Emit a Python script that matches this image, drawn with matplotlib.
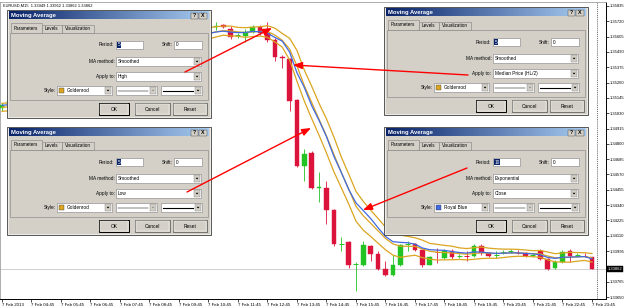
import numpy as np
import matplotlib
matplotlib.use("Agg")
import matplotlib.pyplot as plt
from matplotlib.patches import Rectangle, Polygon

plt.rcParams['font.family'] = ['Liberation Sans', 'DejaVu Sans']

# ---------------- data ----------------
symbol = "EURUSD,M15"
header_values = ["1.33949", "1.33952", "1.33862", "1.33862"]

opens = [1.35067, 1.35089, 1.35119, 1.35149, 1.35171, 1.35208, 1.35231, 1.35268, 1.35290, 1.35328,
         1.35350, 1.35387, 1.35410, 1.35447, 1.35470, 1.35507, 1.35529, 1.35566, 1.35596, 1.35626,
         1.35649, 1.35634, 1.35656, 1.35641, 1.35619, 1.35649, 1.35664, 1.35634, 1.35656, 1.35678,
         1.35693, 1.35664, 1.35615, 1.35611, 1.35641, 1.35678, 1.35634, 1.35581, 1.35455, 1.35440,
         1.35126, 1.34634, 1.34731, 1.34470, 1.34470, 1.34306, 1.34041, 1.34060, 1.33892, 1.33888,
         1.34030, 1.33970, 1.33858, 1.33813, 1.33888, 1.34041, 1.34045, 1.34000, 1.33888, 1.33992,
         1.33940, 1.33992, 1.33951, 1.33963, 1.33955, 1.34030, 1.33977, 1.33959, 1.33981, 1.33988,
         1.33985, 1.33977, 1.33959, 1.33992, 1.33933, 1.33866, 1.33910, 1.33992, 1.33959, 1.33963,
         1.33949]
highs = [1.35104, 1.35126, 1.35156, 1.35186, 1.35216, 1.35246, 1.35276, 1.35305, 1.35343, 1.35365,
         1.35395, 1.35425, 1.35462, 1.35484, 1.35522, 1.35544, 1.35581, 1.35611, 1.35641, 1.35664,
         1.35678, 1.35686, 1.35701, 1.35678, 1.35671, 1.35693, 1.35701, 1.35686, 1.35693, 1.35716,
         1.35701, 1.35686, 1.35634, 1.35664, 1.35693, 1.35693, 1.35716, 1.35596, 1.35470, 1.35447,
         1.35134, 1.34761, 1.34746, 1.34589, 1.34522, 1.34313, 1.34104, 1.34067, 1.33910, 1.34067,
         1.34037, 1.33992, 1.33918, 1.33963, 1.34045, 1.34067, 1.34052, 1.34007, 1.33955, 1.34015,
         1.34007, 1.34007, 1.33970, 1.33992, 1.34045, 1.34045, 1.33985, 1.33992, 1.34000, 1.34007,
         1.34000, 1.33985, 1.33977, 1.34007, 1.33940, 1.33925, 1.34000, 1.34007, 1.33977, 1.33977,
         1.33952]
lows = [1.35044, 1.35067, 1.35104, 1.35126, 1.35156, 1.35186, 1.35216, 1.35246, 1.35276, 1.35305,
        1.35335, 1.35365, 1.35395, 1.35425, 1.35455, 1.35484, 1.35514, 1.35544, 1.35574, 1.35596,
        1.35604, 1.35596, 1.35619, 1.35589, 1.35581, 1.35611, 1.35619, 1.35596, 1.35611, 1.35656,
        1.35671, 1.35589, 1.35596, 1.35566, 1.35634, 1.35619, 1.35566, 1.35425, 1.35373, 1.35044,
        1.34627, 1.34522, 1.34462, 1.34365, 1.34201, 1.34030, 1.33992, 1.33866, 1.33694, 1.33880,
        1.33918, 1.33851, 1.33806, 1.33806, 1.33880, 1.33992, 1.33992, 1.33873, 1.33888, 1.33903,
        1.33933, 1.33933, 1.33940, 1.33918, 1.33948, 1.33963, 1.33948, 1.33940, 1.33970, 1.33977,
        1.33970, 1.33948, 1.33948, 1.33925, 1.33851, 1.33858, 1.33903, 1.33910, 1.33948, 1.33948,
        1.33862]
closes = [1.35089, 1.35119, 1.35149, 1.35171, 1.35208, 1.35231, 1.35268, 1.35290, 1.35328, 1.35350,
          1.35387, 1.35410, 1.35447, 1.35470, 1.35507, 1.35529, 1.35566, 1.35596, 1.35626, 1.35649,
          1.35634, 1.35656, 1.35641, 1.35619, 1.35649, 1.35664, 1.35634, 1.35656, 1.35664, 1.35686,
          1.35678, 1.35604, 1.35619, 1.35641, 1.35678, 1.35634, 1.35581, 1.35455, 1.35447, 1.35119,
          1.34634, 1.34724, 1.34470, 1.34477, 1.34306, 1.34045, 1.34045, 1.33888, 1.33895, 1.34037,
          1.33970, 1.33858, 1.33813, 1.33888, 1.34037, 1.34045, 1.34000, 1.33888, 1.33948, 1.33988,
          1.33992, 1.33948, 1.33955, 1.33959, 1.34030, 1.33977, 1.33955, 1.33963, 1.33985, 1.33992,
          1.33981, 1.33955, 1.33963, 1.33933, 1.33858, 1.33910, 1.33985, 1.33955, 1.33963, 1.33959,
          1.33862]

time_labels = ["7 Feb 2013", "7 Feb 04:45", "7 Feb 05:45", "7 Feb 06:45", "7 Feb 07:45",
               "7 Feb 08:45", "7 Feb 09:45", "7 Feb 10:45", "7 Feb 11:45", "7 Feb 12:45",
               "7 Feb 13:45", "7 Feb 14:45", "7 Feb 15:45", "7 Feb 16:45", "7 Feb 17:45",
               "7 Feb 18:45", "7 Feb 19:45", "7 Feb 20:45", "7 Feb 21:45", "7 Feb 22:45",
               "7 Feb 23:45"]
bars_per_label = 4
price_ticks = [1.33650, 1.33765, 1.33995, 1.34110, 1.34225, 1.34340, 1.34455, 1.34570,
               1.34685, 1.34800, 1.34915, 1.35030, 1.35145, 1.35260, 1.35375, 1.35490,
               1.35605, 1.35720, 1.35835]
current_price = 1.33862
smma_period = 5
ema_period = 10

dialog_specs = [
    dict(period="5", method="Smoothed", apply="High", style="Goldenrod", color="#DAA520"),
    dict(period="5", method="Smoothed", apply="Low", style="Goldenrod", color="#DAA520"),
    dict(period="5", method="Smoothed", apply="Median Price (HL/2)", style="Goldenrod", color="#DAA520"),
    dict(period="10", method="Exponential", apply="Close", style="Royal Blue", color="#4169E1"),
]
dialog_pos = [(7, 10), (7, 127), (384, 7), (384, 127)]

# ---------------- indicators ----------------
o = np.array(opens); h = np.array(highs); l = np.array(lows); c = np.array(closes)
x = np.arange(len(o))


def smma(src, n):
    out = np.empty(len(src)); out[0] = src[0]
    for i in range(1, len(src)):
        out[i] = (out[i - 1] * (n - 1) + src[i]) / n
    return out


def ema(src, n):
    a = 2.0 / (n + 1)
    out = np.empty(len(src)); out[0] = src[0]
    for i in range(1, len(src)):
        out[i] = out[i - 1] + a * (src[i] - out[i - 1])
    return out


ma_high = smma(h, smma_period)
ma_low = smma(l, smma_period)
ma_med = smma((h + l) / 2, smma_period)
ma_close = ema(c, ema_period)

# ---------------- figure ----------------
W, H = 625, 307
fig = plt.figure(figsize=(W / 100, H / 100), dpi=100)
fig.patch.set_facecolor('white')
ax = fig.add_axes([0, 8 / H, 606 / W, 297 / H])
ax.set_facecolor('white')
ax.set_xlim(-0.27, 81.9)
ax.set_ylim(1.33635, 1.35865)

red = '#DC143C'
green = '#22C322'
up = c >= o
cols = np.where(up, green, red)
ax.vlines(x, l, h, colors=cols, lw=0.6, zorder=2)
body_lo = np.minimum(o, c); body_hi = np.maximum(o, c)
doji = (body_hi - body_lo) < 0.00005
ax.bar(x[~doji], (body_hi - body_lo)[~doji], bottom=body_lo[~doji], width=0.64,
       color=cols[~doji], edgecolor=cols[~doji], lw=0.3, zorder=3)
ax.hlines(c[doji], x[doji] - 0.34, x[doji] + 0.34, colors=cols[doji], lw=0.7, zorder=3)

ax.plot(x, ma_high, color='#DAA520', lw=0.9, zorder=4)
ax.plot(x, ma_low, color='#DAA520', lw=0.9, zorder=4)
ax.plot(x, ma_med, color='#DAA520', lw=0.9, zorder=4)
ax.plot(x, ma_close, color='#4169E1', lw=0.9, zorder=4)

ax.axhline(current_price, color='#C8C8C8', lw=0.6, zorder=1)
ax.axvline(80.7, color='#303030', lw=0.5, ls=(0, (1.5, 1.5)), zorder=1)

for side in ['top', 'left']:
    ax.spines[side].set_color('#A0A0A0'); ax.spines[side].set_linewidth(0.6)
for side in ['right', 'bottom']:
    ax.spines[side].set_color('black'); ax.spines[side].set_linewidth(0.7)

ax.yaxis.tick_right()
ax.set_yticks(price_ticks)
ax.set_yticklabels([f"{p:.5f}" for p in price_ticks])
ax.tick_params(axis='y', direction='out', length=2, width=0.5, labelsize=3.0, pad=1)
ax.set_xticks(np.arange(len(time_labels)) * bars_per_label)
ax.set_xticklabels(time_labels)
for t in ax.get_xticklabels():
    t.set_ha('left')
ax.tick_params(axis='x', direction='out', length=2, width=0.5, labelsize=3.2, pad=1)
ax.text(1.003, current_price, f"{current_price:.5f}", transform=ax.get_yaxis_transform(),
        fontsize=3.0, color='white', va='center', ha='left', clip_on=False, zorder=10,
        bbox=dict(boxstyle='square,pad=0.25', fc='black', ec='black', lw=0.3))

# ---------------- overlay (dialogs, arrows) ----------------
ov = fig.add_axes([0, 0, 1, 1])
ov.axis('off')
ov.text(3, 5.5, symbol + "  " + " ".join(header_values), fontsize=2.9, va='center', ha='left')

grad = np.linspace(0, 1, 64).reshape(1, -1)
from matplotlib.colors import LinearSegmentedColormap
title_cmap = LinearSegmentedColormap.from_list('t', ['#0A246A', '#A6CAF0'])

GRAY = '#D4D0C8'; DARK = '#404040'; MID = '#808080'


def dialog(X, Y, spec):
    Wd, Hd = 204, 108

    def rect(x0, y0, w, hh, fc, ec='none', lw=0.4, z=10):
        ov.add_patch(Rectangle((X + x0, Y + y0), w, hh, facecolor=fc, edgecolor=ec, lw=lw, zorder=z))

    def txt(x0, y0, s, ha='left', fs=3.4, color='black', weight='normal', z=13):
        ov.text(X + x0, Y + y0, s, ha=ha, va='center', fontsize=fs, color=color,
                fontweight=weight, zorder=z)

    def button_arrow(bx, by, enabled=True):
        rect(bx, by, 6.5, 7, GRAY, MID, 0.3, 12)
        fc = 'black' if enabled else '#909090'
        ov.add_patch(Polygon([(X + bx + 1.8, Y + by + 2.8), (X + bx + 4.7, Y + by + 2.8),
                              (X + bx + 3.25, Y + by + 4.5)], closed=True, fc=fc, ec='none', zorder=13))

    rect(0, 0, Wd, Hd, GRAY, DARK, 0.6)
    rect(0.8, 0.8, Wd - 1.6, Hd - 1.6, 'none', 'white', 0.4, 11)
    ov.imshow(grad, extent=(X + 2, X + Wd - 2, Y + 9.5, Y + 1.5), cmap=title_cmap,
              aspect='auto', zorder=11, interpolation='bilinear')
    txt(4, 5.6, "Moving Average", fs=4.2, color='white', weight='bold')
    rect(183.5, 2.6, 7.5, 6, GRAY, DARK, 0.3, 12)
    txt(187.25, 5.6, "?", ha='center', fs=3.8, weight='bold')
    rect(192, 2.6, 7.5, 6, GRAY, DARK, 0.3, 12)
    txt(195.75, 5.6, "X", ha='center', fs=3.8, weight='bold')
    # tab panel
    rect(3, 22.5, 198, 67, GRAY, MID, 0.4, 10.5)
    rect(35, 15, 19.5, 7.5, GRAY, MID, 0.4, 10.5)
    txt(44.7, 18.9, "Levels", ha='center', fs=3.3)
    rect(54.5, 15, 32, 7.5, GRAY, MID, 0.4, 10.5)
    txt(70.5, 18.9, "Visualization", ha='center', fs=3.3)
    rect(3.5, 12.8, 31.5, 10.4, GRAY, MID, 0.4, 11)
    txt(19.2, 18.0, "Parameters", ha='center', fs=3.3)
    # period / shift
    txt(107.5, 35, "Period:", ha='right')
    rect(109, 31, 27, 8, 'white', MID, 0.4, 11)
    pw = 2.2 * len(spec['period']) + 1.2
    rect(110.3, 32.2, pw, 5.6, '#0A246A', 'none', 0.3, 12)
    txt(110.9, 35, spec['period'], color='white')
    txt(165.5, 35, "Shift:", ha='right')
    rect(167, 31, 28, 8, 'white', MID, 0.4, 11)
    txt(168.5, 35, "0")
    # method
    txt(107.5, 51.5, "MA method:", ha='right')
    rect(109, 47, 85, 9, 'white', MID, 0.4, 11)
    txt(110.8, 51.5, spec['method'])
    button_arrow(186.8, 48)
    # apply
    txt(107.5, 66.5, "Apply to:", ha='right')
    rect(109, 62, 85, 9, 'white', MID, 0.4, 11)
    txt(110.8, 66.5, spec['apply'])
    button_arrow(186.8, 63)
    # style
    txt(49, 80.5, "Style:", ha='right')
    rect(50, 76, 55, 9, 'white', MID, 0.4, 11)
    rect(51.7, 77.8, 5.6, 5.4, spec['color'], DARK, 0.3, 12)
    txt(59.5, 80.5, spec['style'])
    button_arrow(97.8, 77)
    rect(109, 76, 41, 9, 'white', MID, 0.4, 11)
    ov.plot([X + 111, X + 141], [Y + 80.5, Y + 80.5], color='black', lw=0.35, zorder=12)
    button_arrow(142.8, 77, enabled=False)
    rect(154, 76, 41, 9, 'white', MID, 0.4, 11)
    ov.plot([X + 156, X + 186], [Y + 80.5, Y + 80.5], color='black', lw=0.8, zorder=12)
    button_arrow(187.8, 77)
    # buttons
    for bx, bw, lab, dflt in [(92, 30, "OK", True), (128, 35, "Cancel", False), (166, 34, "Reset", False)]:
        rect(bx, 93, bw, 12, GRAY, 'black' if dflt else DARK, 0.7 if dflt else 0.45, 11)
        rect(bx + 0.9, 93.9, bw - 1.8, 10.2, 'none', 'white', 0.3, 12)
        txt(bx + bw / 2, 99.2, lab, ha='center', fs=3.5)


for (X, Y), spec in zip(dialog_pos, dialog_specs):
    dialog(X, Y, spec)

arrows = [((185, 72), (272, 28)), ((468, 75), (293, 65)),
          ((187, 192), (311, 128)), ((467, 168), (363, 210))]
for (sx, sy), (ex, ey) in arrows:
    ov.annotate('', xy=(ex, ey), xytext=(sx, sy), zorder=50,
                arrowprops=dict(arrowstyle='-|>,head_length=0.9,head_width=0.35', color='#FF0000',
                                lw=1.0, shrinkA=0, shrinkB=0, mutation_scale=6))

ov.set_xlim(0, W)
ov.set_ylim(H, 0)

fig.savefig('out.png', dpi=100)
